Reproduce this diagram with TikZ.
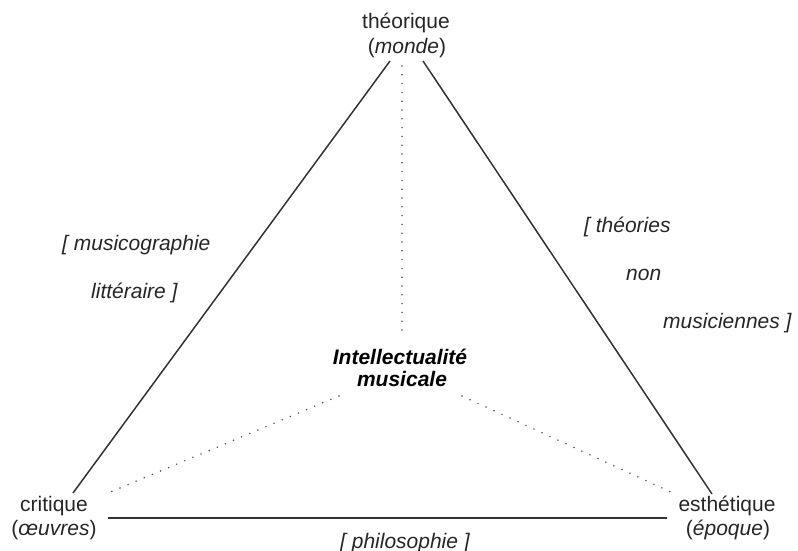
\documentclass[tikz,border=0pt]{standalone}
\usepackage{fontspec}
\setmainfont{Liberation Sans}
\begin{document}
\begin{tikzpicture}[x=1pt,y=-1pt,
  lbl/.style={inner sep=0pt,anchor=base,font=\fontsize{21}{25}\selectfont,text=black!85},
  ilbl/.style={inner sep=0pt,anchor=base west,font=\fontsize{21}{25}\selectfont\itshape,text=black!85},
  solidline/.style={draw=black!80,line width=1.5pt},
  dotline/.style={draw=black!70,line width=1.7pt,line cap=round,dash pattern=on 0pt off 8.8pt}]
\useasboundingbox (0,0) rectangle (798,551);
% vertex labels
\node[lbl] (t1) at (406,29) {théorique};
\node[lbl] (t2) at (407,54) {(\textit{monde})};
\node[lbl] (c1) at (54,511) {critique};
\node[lbl] (c2) at (54,535) {(\textit{œuvres})};
\node[lbl] (e1) at (727,511) {esthétique};
\node[lbl] (e2) at (728,535) {(\textit{époque})};
\node[lbl,font=\fontsize{21}{25}\selectfont\bfseries\itshape,text=black] (m1) at (400,364) {Intellectualité};
\node[lbl,font=\fontsize{21}{25}\selectfont\bfseries\itshape,text=black] (m2) at (402,386) {musicale};
% side labels
\node[ilbl] (l1) at (62,250) {[ musicographie};
\node[ilbl] (l2) at (91,298) {littéraire ]};
\node[ilbl] (r1) at (584,232) {[ théories};
\node[ilbl] (r2) at (626,280) {non};
\node[ilbl] (r3) at (663,328) {musiciennes ]};
\node[ilbl] (b1) at (340,548) {[ philosophie ]};
% end points
\coordinate (TL) at (390,61);
\coordinate (TR) at (423,61);
\coordinate (LB) at (73,493);
\coordinate (RB) at (712,494);
\coordinate (BL) at (108,518);
\coordinate (BR) at (667,518);
\coordinate (DT) at (402,66);
\coordinate (DB) at (402,336);
\coordinate (DL1) at (339,396);
\coordinate (DL2) at (108,493);
\coordinate (DR1) at (462,396);
\coordinate (DR2) at (673,493);
% connectors
\draw[solidline] (TL) -- (LB);
\draw[solidline] (TR) -- (RB);
\draw[solidline] (BL) -- (BR);
\draw[dotline] (DT) -- (DB);
\draw[dotline] (DL1) -- (DL2);
\draw[dotline] (DR1) -- (DR2);
\end{tikzpicture}
\end{document}
